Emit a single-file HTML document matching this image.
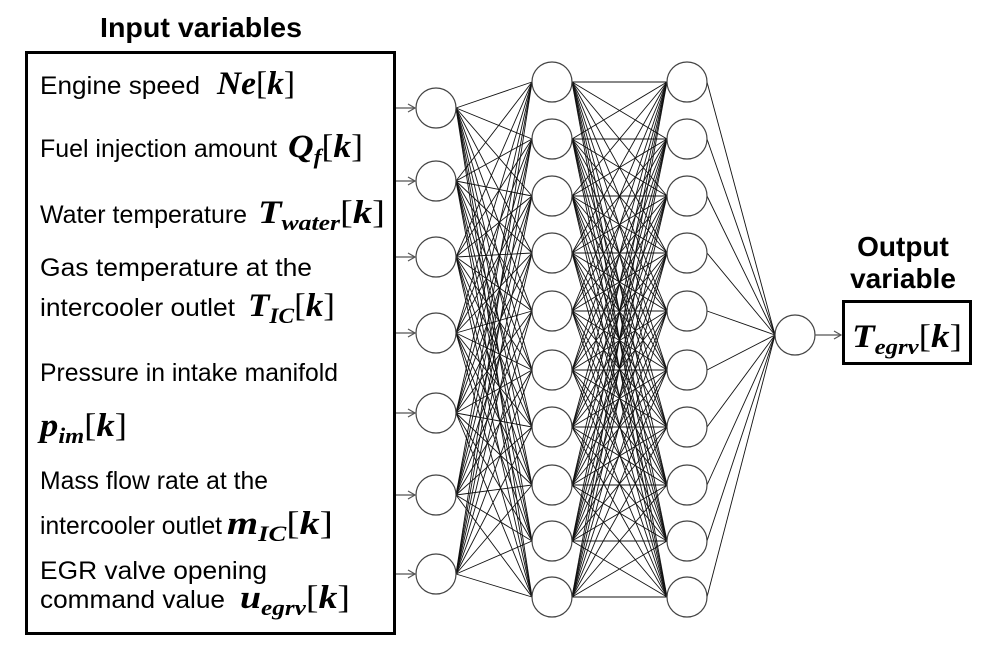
<!DOCTYPE html>
<html><head><meta charset="utf-8">
<style>
html,body{margin:0;padding:0;background:#fff;}
svg{display:block;}
.t{font-family:"Liberation Sans",Arial,sans-serif;font-size:25px;fill:#000;}
.b{font-weight:bold;font-size:28px;}
.m{font-family:"Liberation Serif",serif;font-weight:bold;font-style:italic;font-size:33px;}
.s{font-size:22px;}
.br{font-family:"Liberation Serif",serif;font-weight:normal;font-style:normal;font-size:33px;}
</style></head>
<body>
<svg id="svg" width="1000" height="651" viewBox="0 0 1000 651" xmlns="http://www.w3.org/2000/svg">
<g id="lines" stroke="#111" stroke-width="0.9" fill="none"></g>
<g id="nodes" stroke="#444" stroke-width="1.2" fill="#fff"></g>
<g id="arrows" stroke="#555" stroke-width="1.2" fill="none"></g>

<text class="t b" x="100" y="37" textLength="202" lengthAdjust="spacingAndGlyphs">Input variables</text>
<rect x="26.5" y="52.5" width="368" height="581" fill="none" stroke="#000" stroke-width="3"/>

<text class="t" x="40" y="94" textLength="160" lengthAdjust="spacingAndGlyphs">Engine speed</text>
<text x="217" y="94" class="m" textLength="78" lengthAdjust="spacingAndGlyphs">Ne<tspan class="br">[</tspan>k<tspan class="br">]</tspan></text>

<text class="t" x="40" y="157" textLength="237" lengthAdjust="spacingAndGlyphs">Fuel injection amount</text>
<text x="288" y="157" class="m" textLength="75" lengthAdjust="spacingAndGlyphs">Q<tspan class="s" dy="7">f</tspan><tspan class="br" dy="-7">[</tspan>k<tspan class="br">]</tspan></text>

<text class="t" x="40" y="223" textLength="207" lengthAdjust="spacingAndGlyphs">Water temperature</text>
<text x="258" y="223" class="m" textLength="127" lengthAdjust="spacingAndGlyphs">T<tspan class="s" dy="7">water</tspan><tspan class="br" dy="-7">[</tspan>k<tspan class="br">]</tspan></text>

<text class="t" x="40" y="276" textLength="272" lengthAdjust="spacingAndGlyphs">Gas temperature at the</text>
<text class="t" x="40" y="316" textLength="195" lengthAdjust="spacingAndGlyphs">intercooler outlet</text>
<text x="248" y="316" class="m" textLength="87" lengthAdjust="spacingAndGlyphs">T<tspan class="s" dy="7">IC</tspan><tspan class="br" dy="-7">[</tspan>k<tspan class="br">]</tspan></text>

<text class="t" x="40" y="381" textLength="298" lengthAdjust="spacingAndGlyphs">Pressure in intake manifold</text>
<text x="40" y="436" class="m" textLength="87" lengthAdjust="spacingAndGlyphs">p<tspan class="s" dy="7">im</tspan><tspan class="br" dy="-7">[</tspan>k<tspan class="br">]</tspan></text>

<text class="t" x="40" y="489" textLength="228" lengthAdjust="spacingAndGlyphs">Mass flow rate at the</text>
<text class="t" x="40" y="534" textLength="182" lengthAdjust="spacingAndGlyphs">intercooler outlet</text>
<text x="227" y="534" class="m" textLength="106" lengthAdjust="spacingAndGlyphs">m<tspan class="s" dy="7">IC</tspan><tspan class="br" dy="-7">[</tspan>k<tspan class="br">]</tspan></text>

<text class="t" x="40" y="579" textLength="227" lengthAdjust="spacingAndGlyphs">EGR valve opening</text>
<text class="t" x="40" y="608" textLength="185" lengthAdjust="spacingAndGlyphs">command value</text>
<text x="240" y="608" class="m" textLength="110" lengthAdjust="spacingAndGlyphs">u<tspan class="s" dy="7">egrv</tspan><tspan class="br" dy="-7">[</tspan>k<tspan class="br">]</tspan></text>

<text class="t b" x="903" y="256" text-anchor="middle">Output</text>
<text class="t b" x="903" y="288" text-anchor="middle">variable</text>
<rect x="843.5" y="301.5" width="127" height="62" fill="none" stroke="#000" stroke-width="3"/>
<text x="852" y="347" class="m" textLength="110" lengthAdjust="spacingAndGlyphs">T<tspan class="s" dy="7">egrv</tspan><tspan class="br" dy="-7">[</tspan>k<tspan class="br">]</tspan></text>
</svg>
<script>
var NS="http://www.w3.org/2000/svg";
function el(g,n,a){var e=document.createElementNS(NS,n);for(var k in a)e.setAttribute(k,a[k]);document.getElementById(g).appendChild(e);}
var inY=[108,181,257,333,413,495,574];
var hY=[82,139,196,253,311,370,427,485,541,597];
var xi=436,x1=552,x2=687,xo=795,yo=335,r=20;
inY.forEach(function(a){hY.forEach(function(b){el("lines","line",{x1:xi+r,y1:a,x2:x1-r,y2:b});});});
hY.forEach(function(a){hY.forEach(function(b){el("lines","line",{x1:x1+r,y1:a,x2:x2-r,y2:b});});});
hY.forEach(function(a){el("lines","line",{x1:x2+r,y1:a,x2:xo-r,y2:yo});});
inY.forEach(function(y){el("nodes","circle",{cx:xi,cy:y,r:r});
 el("arrows","line",{x1:396,y1:y,x2:415,y2:y});
 el("arrows","polyline",{points:(408)+","+(y-4)+" 415,"+y+" "+(408)+","+(y+4)});});
hY.forEach(function(y){el("nodes","circle",{cx:x1,cy:y,r:r});el("nodes","circle",{cx:x2,cy:y,r:r});});
el("nodes","circle",{cx:xo,cy:yo,r:r});
el("arrows","line",{x1:815,y1:335,x2:841,y2:335});
el("arrows","polyline",{points:"834,331 841,335 834,339"});
</script>
</body></html>
